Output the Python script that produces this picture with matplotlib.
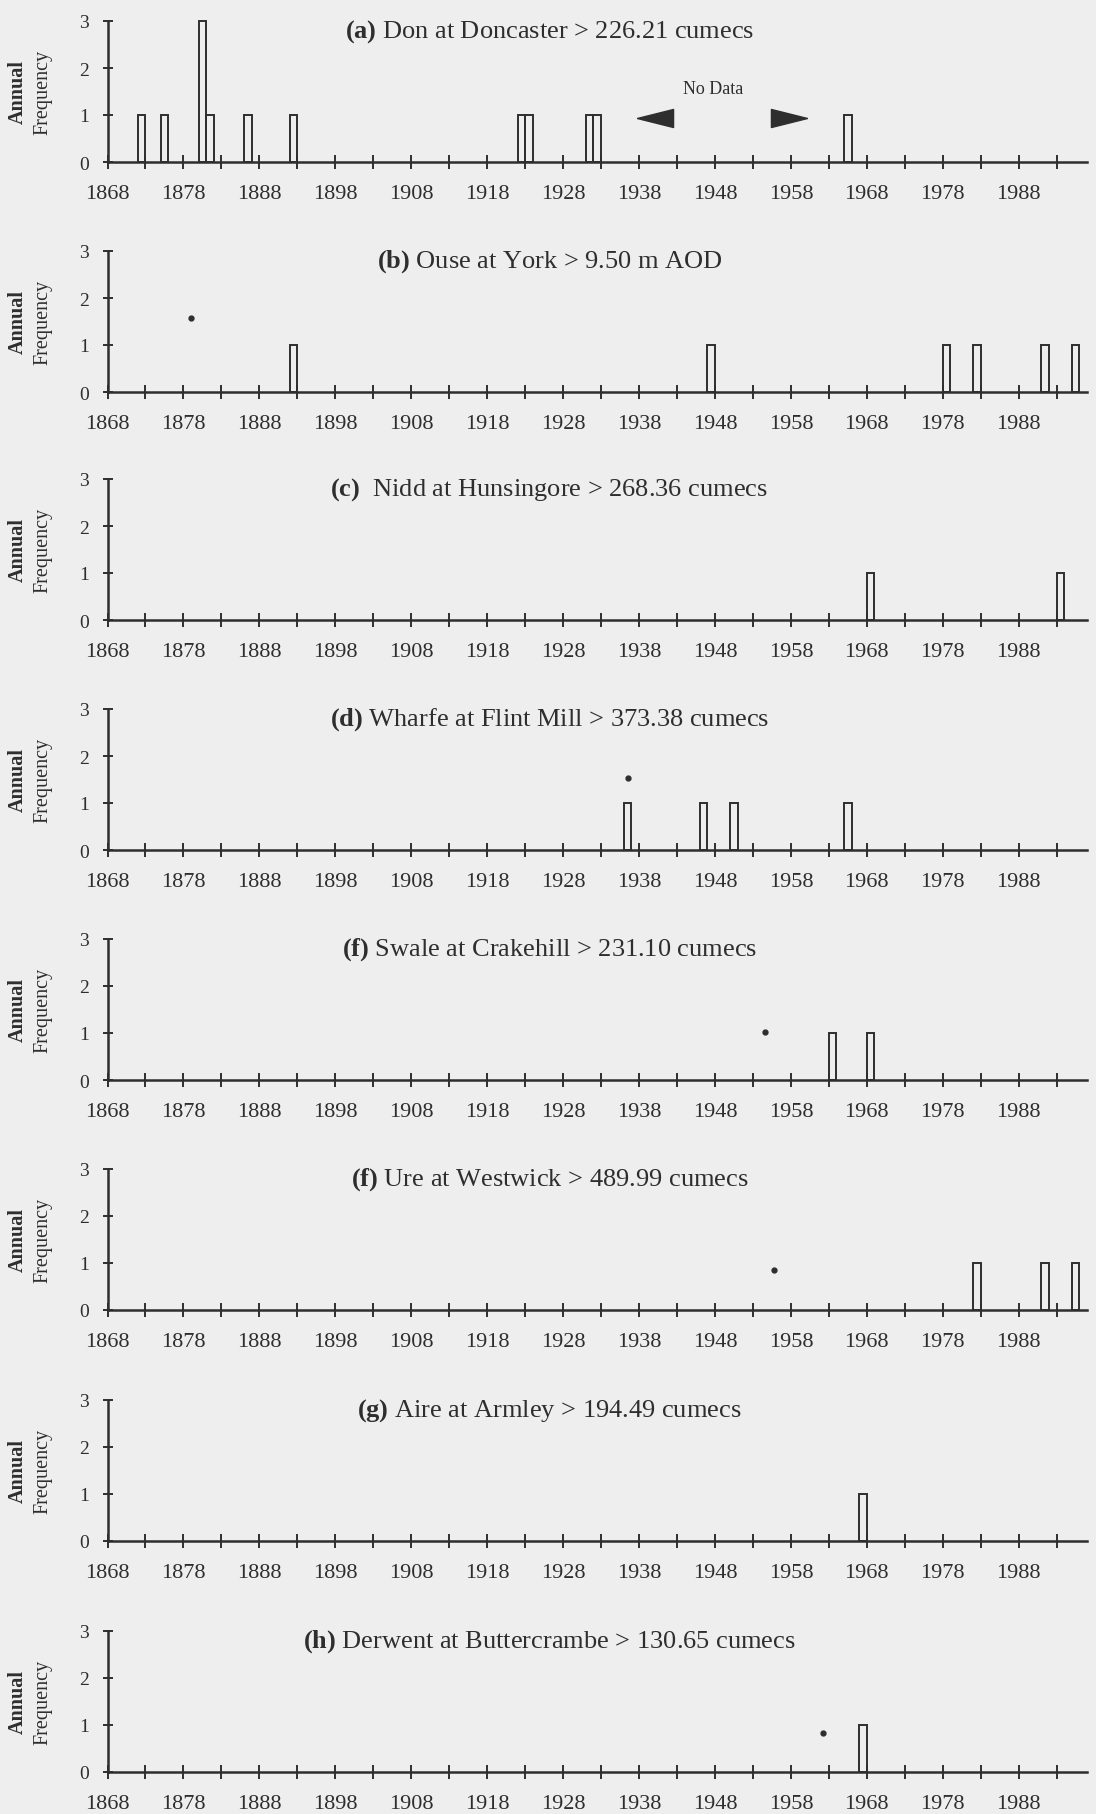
import matplotlib
matplotlib.use("Agg")
import matplotlib.pyplot as plt

# flood events per year for each river gauge (bar left edge = year)
years_a = [1872, 1875, 1880, 1881, 1886, 1892, 1922, 1923, 1931, 1932, 1965]
counts_a = [1, 1, 3, 1, 1, 1, 1, 1, 1, 1, 1]
years_b = [1892, 1947, 1978, 1982, 1991, 1995]
counts_b = [1, 1, 1, 1, 1, 1]
years_c = [1968, 1993]
counts_c = [1, 1]
years_d = [1936, 1946, 1950, 1965]
counts_d = [1, 1, 1, 1]
years_e = [1963, 1968]
counts_e = [1, 1]
years_f = [1982, 1991, 1995]
counts_f = [1, 1, 1]
years_g = [1967]
counts_g = [1]
years_h = [1967]
counts_h = [1]

# small asterisk marks on some panels (year, value)
marks_b = [(1879, 1.57)]
marks_d = [(1936.5, 1.53)]
marks_e = [(1954.6, 1.03)]
marks_f = [(1955.8, 0.86)]
marks_h = [(1962.2, 0.82)]

titles = [
    (r"$\mathbf{(a)}$", "Don at Doncaster > 226.21 cumecs"),
    (r"$\mathbf{(b)}$", "Ouse at York > 9.50 m AOD"),
    (r"$\mathbf{(c)}$", " Nidd at Hunsingore > 268.36 cumecs"),
    (r"$\mathbf{(d)}$", "Wharfe at Flint Mill > 373.38 cumecs"),
    (r"$\mathbf{(f)}$", "Swale at Crakehill > 231.10 cumecs"),
    (r"$\mathbf{(f)}$", "Ure at Westwick > 489.99 cumecs"),
    (r"$\mathbf{(g)}$", "Aire at Armley > 194.49 cumecs"),
    (r"$\mathbf{(h)}$", "Derwent at Buttercrambe > 130.65 cumecs"),
]

panels = [
    (years_a, counts_a, []),
    (years_b, counts_b, marks_b),
    (years_c, counts_c, []),
    (years_d, counts_d, marks_d),
    (years_e, counts_e, marks_e),
    (years_f, counts_f, marks_f),
    (years_g, counts_g, []),
    (years_h, counts_h, marks_h),
]

# "No Data" gap on the Don record
no_data_text = (1947.8, 1.56)
no_data_arrows = [(1940.1, 0.94, "left"), (1957.7, 0.94, "right")]

plt.rcParams['font.family'] = ['Liberation Serif', 'DejaVu Serif']
plt.rcParams['mathtext.fontset'] = 'custom'
plt.rcParams['mathtext.rm'] = 'Liberation Serif'
plt.rcParams['mathtext.bf'] = 'Liberation Serif:bold'

ink = '#2e2e2e'
bg = '#eeeeee'

W, H = 1096, 1815
fig = plt.figure(figsize=(W / 100, H / 100), dpi=100, facecolor=bg)

tops = [22, 252, 480, 710, 940, 1170, 1401, 1632]
left_px, right_px, height_px = 107.5, 1087, 141

xticks = list(range(1868, 1994, 5))
xlabels = [str(y) if (y - 1868) % 10 == 0 else '' for y in xticks]

# arrow shapes pointing left / right
arrow_left = [(-1, 0), (1, 0.5), (1, -0.5), (-1, 0)]
arrow_right = [(1, 0), (-1, 0.5), (-1, -0.5), (1, 0)]

for i, (top, (yrs, cnt, marks), (prefix, title)) in enumerate(zip(tops, panels, titles)):
    ax = fig.add_axes([left_px / W, 1 - (top + height_px) / H,
                       (right_px - left_px) / W, height_px / H])
    ax.set_facecolor('none')
    ax.bar(yrs, cnt, width=1, align='edge', facecolor='none',
           edgecolor=ink, linewidth=1.4, clip_on=False)
    for mx, my in marks:
        ax.plot(mx, my, 'o', ms=3.5, color=ink, clip_on=False)

    ax.set_xlim(1868, 1997)
    ax.set_ylim(0, 3)
    for s in ['top', 'right']:
        ax.spines[s].set_visible(False)
    for s in ['left', 'bottom']:
        ax.spines[s].set_linewidth(1.8)
        ax.spines[s].set_color(ink)

    ax.set_xticks(xticks)
    ax.set_xticklabels(xlabels)
    ax.set_yticks([0, 1, 2, 3])
    ax.tick_params(axis='x', direction='inout', length=10, width=1.4,
                   color=ink, labelcolor=ink, labelsize=16, pad=11)
    ax.tick_params(axis='y', direction='inout', length=7, width=1.4,
                   color=ink, labelcolor=ink, labelsize=14, pad=10)

    ax.text(1926.2, 2.8, prefix + " " + title, ha='center', va='center',
            fontsize=19, color=ink)

    ax.text(-0.092, 0.5, "Annual", transform=ax.transAxes, rotation=90,
            ha='center', va='center', fontsize=14.5, fontweight='bold', color=ink)
    ax.text(-0.066, 0.5, "Frequency", transform=ax.transAxes, rotation=90,
            ha='center', va='center', fontsize=14.5, color=ink)

    if i == 0:
        ax.text(no_data_text[0], no_data_text[1], "No Data", ha='center',
                va='center', fontsize=13, color=ink)
        for ax_x, ax_y, side in no_data_arrows:
            m = arrow_left if side == 'left' else arrow_right
            ax.plot(ax_x, ax_y, marker=m, ms=26, color=ink, mec=ink)

fig.savefig("out.png", dpi=100, facecolor=bg)
